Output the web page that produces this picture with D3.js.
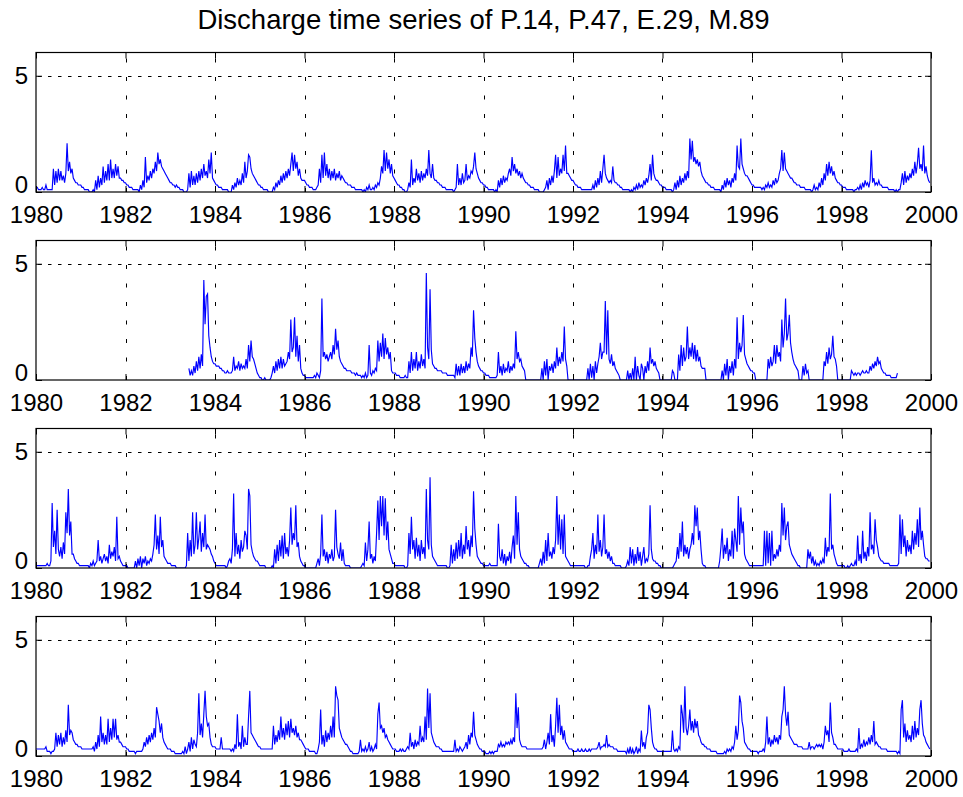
<!DOCTYPE html>
<html>
<head>
<meta charset="utf-8">
<script src="https://cdn.jsdelivr.net/npm/d3@7"></script>
<style>
body{margin:0;background:#fff;}
text{font-family:"Liberation Sans",Arial,sans-serif;fill:#000;}
</style>
</head>
<body>
<div id="chart"></div>
<script>
var N = null
/* discharge, in tenths, 36 values per year (about 10 days each), one row per year 1980..1999 */
var p14 = [
[2,2,1,1,1,2,1,1,3,1,1,1,1,1,10,3,9,4,10,5,9,5,7,4,8,21,9,13,8,10,6,5,4,4,3,3],
[3,2,2,1,1,1,1,0,0,0,1,0,5,1,7,2,6,3,11,4,9,5,12,5,14,6,10,6,12,7,11,6,6,5,5,4],
[4,3,3,2,2,2,1,1,1,1,1,0,3,1,5,2,15,4,7,5,9,6,10,8,13,9,17,12,14,11,10,9,8,7,6,5],
[4,4,3,3,2,3,2,2,1,1,1,0,0,0,1,8,2,9,3,7,3,8,4,9,5,10,6,12,7,9,6,14,8,17,6,5],
[4,3,3,2,2,2,1,1,1,1,1,0,0,0,3,1,4,2,6,3,5,3,8,4,13,6,9,16,15,10,8,7,6,5,4,3],
[3,2,2,1,1,1,1,0,0,0,0,2,1,4,2,5,3,7,4,8,5,9,6,10,7,12,17,9,16,10,13,7,10,6,5,5],
[5,4,3,3,2,2,2,1,1,1,2,3,10,4,16,6,17,7,12,6,10,5,9,6,10,5,8,6,9,5,7,6,5,4,4,3],
[3,3,2,2,2,1,1,1,1,1,1,0,1,0,2,1,3,1,1,2,1,3,2,4,3,6,11,8,18,9,17,10,14,8,12,7],
[6,5,4,3,3,2,2,1,1,0,0,1,4,2,14,3,6,4,10,5,8,4,9,5,8,6,10,7,18,8,6,12,6,5,5,4],
[4,3,3,2,2,2,1,1,1,1,1,1,0,1,2,12,3,6,3,8,4,5,12,5,7,6,9,8,11,17,10,8,6,5,4,4],
[3,3,2,2,1,1,1,1,1,0,1,0,5,2,6,3,7,4,6,5,8,10,7,15,9,12,8,10,7,9,6,8,6,5,4,4],
[3,3,2,2,2,1,1,1,1,0,0,0,0,1,2,5,1,6,3,7,4,9,16,6,15,7,10,8,16,9,20,8,8,7,6,5],
[5,4,3,3,2,2,2,1,1,1,1,1,1,1,1,1,3,1,5,2,6,3,9,4,10,16,8,6,5,4,5,4,11,5,4,4],
[3,3,2,2,1,1,1,1,1,1,0,1,0,2,1,3,1,4,2,3,2,5,3,6,4,7,12,5,16,8,6,5,5,4,3,3],
[2,2,2,1,1,1,1,1,0,1,4,1,5,2,7,3,6,4,8,5,9,6,23,14,22,13,15,12,14,11,13,9,7,6,5,4],
[4,3,3,2,2,2,1,1,1,1,1,0,3,1,5,2,6,3,5,2,6,4,8,5,20,11,10,23,12,10,8,7,7,6,5,4],
[3,3,2,2,2,2,2,2,1,2,1,3,2,4,2,3,2,5,3,6,4,5,8,10,18,9,17,10,9,8,7,6,6,5,4,4],
[3,3,3,2,2,2,2,1,1,1,1,1,0,1,3,1,2,1,4,2,6,3,8,5,12,7,13,8,11,7,9,6,5,4,4,3],
[3,2,2,2,1,1,1,1,1,1,0,1,1,2,1,3,1,4,2,5,3,4,2,5,18,4,6,3,4,3,5,3,3,2,2,2],
[2,2,1,1,1,1,1,0,1,0,1,1,4,8,3,9,4,7,5,8,6,10,7,13,8,12,19,10,12,9,20,8,11,7,5,4]
]
var p47 = [
[],
[],
[],
[N,N,N,N,N,N,N,N,N,N,N,N,N,N,N,5,2,4,2,6,3,8,4,10,5,11,6,43,24,36,37,19,14,10,8,7],
[7,6,6,6,5,5,4,4,3,3,4,3,3,3,4,10,4,6,5,8,4,7,5,6,5,9,5,15,8,17,10,9,7,5,3,2],
[1,1,0,0,1,0,0,0,0,1,3,6,3,8,4,9,5,10,5,9,6,7,8,12,9,26,12,14,27,10,19,8,15,5,3,2],
[2,1,1,1,1,1,1,1,2,1,3,2,1,4,35,10,12,9,11,8,10,12,9,15,11,22,13,17,10,8,7,6,5,5,4,4],
[4,4,3,3,3,2,3,2,2,2,1,2,1,3,1,2,15,3,2,4,3,5,4,17,8,16,10,20,9,18,11,14,9,12,4,3],
[3,3,2,2,2,1,1,1,1,2,1,1,8,3,12,4,9,5,12,4,8,5,11,6,9,5,46,14,9,39,13,7,6,5,5,4],
[4,4,4,3,3,3,3,2,2,2,2,2,2,1,7,2,6,2,7,3,6,3,8,4,7,5,14,10,30,18,12,8,6,5,4,4],
[3,3,2,2,2,1,1,1,1,1,1,2,12,3,6,2,7,3,5,4,8,3,6,4,7,5,21,9,12,8,9,6,5,4,0,0],
[0,0,0,0,0,0,0,0,0,0,0,5,0,8,2,9,0,6,4,7,3,8,5,14,6,10,7,12,8,23,9,6,0,0,0,0],
[0,0,0,0,0,0,0,0,0,0,0,0,5,0,7,1,6,0,8,3,7,10,16,9,12,12,34,11,30,9,7,11,6,8,5,4],
[3,2,0,0,0,0,0,0,4,0,3,0,5,0,10,0,6,2,0,7,5,0,6,3,8,4,14,7,9,6,8,5,4,3,0,0],
[0,0,0,0,0,0,0,0,4,3,0,0,0,11,4,15,6,14,8,10,23,9,14,10,16,9,15,8,13,8,10,6,5,5,5,0],
[0,0,0,0,0,0,0,0,0,0,0,0,4,0,7,2,9,0,6,3,8,2,9,5,27,9,16,12,15,28,11,9,7,6,5,4],
[4,3,3,0,0,0,0,0,0,0,0,0,0,9,5,10,6,8,15,7,15,10,12,8,26,14,20,35,17,20,28,16,12,9,7,6],
[5,4,0,0,0,6,2,7,3,4,0,0,0,0,0,0,0,0,0,0,0,0,8,6,12,7,14,9,11,19,10,9,6,0,0,0],
[0,0,0,0,0,0,0,0,4,3,2,3,2,3,3,2,3,4,3,3,4,3,3,6,4,7,5,8,6,10,7,8,5,4,3,3],
[2,2,2,2,1,1,1,1,1,3]
]
var e29 = [
[1,1,1,1,1,1,1,1,1,2,1,1,3,28,9,16,6,25,8,5,9,4,11,6,24,15,34,14,20,6,6,4,3,2,2,1],
[1,1,1,1,1,1,1,0,2,1,3,1,2,3,12,3,5,2,4,6,3,5,2,10,4,7,5,9,3,22,4,5,3,2,1,1],
[1,1,0,0,0,0,0,0,3,0,4,1,5,0,4,2,5,1,3,2,4,3,6,10,23,8,14,6,22,9,12,5,4,3,2,2],
[2,1,1,1,1,0,0,0,0,0,0,0,0,1,15,3,12,5,24,6,10,24,8,13,20,7,15,9,23,8,10,9,8,6,5,3],
[2,1,1,1,1,1,1,1,1,0,1,3,4,2,8,32,5,15,6,10,4,12,7,9,16,14,8,34,31,10,7,5,4,3,3,2],
[1,1,1,1,1,0,0,0,0,0,1,0,8,2,10,3,12,5,14,4,15,6,9,5,12,26,10,15,12,27,9,11,5,3,2,1],
[1,0,0,0,0,0,0,0,0,0,2,4,1,6,23,5,8,3,7,2,6,4,8,3,5,25,9,6,4,11,3,8,2,1,1,1],
[1,0,0,0,0,0,0,0,0,0,1,2,1,11,3,8,20,4,6,2,5,3,15,29,12,31,18,31,14,30,12,20,8,6,4,2],
[2,1,1,1,1,1,1,1,1,0,0,1,15,6,22,8,12,4,13,5,10,3,12,6,9,4,34,12,8,39,10,5,4,3,2,1],
[1,1,1,1,1,1,1,0,0,1,10,2,8,3,11,4,12,5,15,4,10,6,18,8,12,5,14,9,33,17,10,5,4,3,2,2],
[1,1,1,1,1,2,1,1,1,1,1,1,19,5,3,8,2,6,1,5,3,7,2,9,14,4,31,10,24,8,5,4,3,2,2,1],
[1,0,0,0,0,0,0,0,0,2,4,1,7,2,12,3,15,5,7,4,9,6,12,31,10,23,8,21,6,23,5,4,3,2,1,1],
[1,1,1,1,1,1,1,1,1,1,0,0,1,1,5,8,15,4,10,6,23,7,12,5,9,23,6,8,4,7,3,5,2,2,1,1],
[1,1,1,0,0,0,0,1,3,1,9,2,8,1,6,2,9,3,7,1,5,9,2,4,3,6,27,8,4,3,3,2,2,1,1,0],
[0,0,0,0,0,0,0,0,0,1,2,3,9,4,15,7,20,5,10,6,9,4,8,10,15,10,27,18,26,12,16,8,2,1,1,0],
[0,0,0,0,0,0,0,0,0,0,3,9,17,4,10,6,13,3,8,5,16,4,17,12,7,31,10,26,15,20,6,4,3,2,1,1],
[1,1,1,1,1,1,1,1,1,1,16,1,16,2,15,1,16,3,6,4,8,5,10,7,28,14,26,12,18,20,10,8,6,5,4,3],
[2,1,1,0,0,0,0,0,0,8,4,7,2,5,1,3,1,2,1,3,2,4,2,13,5,9,7,32,8,10,6,4,2,1,1,1],
[1,1,1,0,0,1,0,1,2,1,1,3,1,14,3,6,2,16,4,7,3,9,5,24,8,10,6,21,12,9,5,4,3,3,2,2],
[2,2,2,1,1,1,1,1,1,1,2,23,6,21,9,14,5,12,7,10,6,16,8,15,10,21,9,26,12,16,10,5,4,4,3,3]
]
var m89 = [
[3,3,3,3,3,3,3,3,4,2,2,2,1,2,2,3,10,4,9,5,10,4,8,5,11,6,22,9,11,10,7,6,5,5,4,4],
[4,3,3,3,3,3,3,3,3,3,4,2,6,3,9,4,17,6,10,5,9,5,16,6,12,7,16,8,16,7,9,6,6,5,4,4],
[4,3,3,2,2,2,2,2,1,2,2,2,2,2,3,6,4,8,5,9,6,10,7,12,8,21,18,15,10,14,8,6,5,4,3,3],
[3,2,2,2,1,1,1,1,1,1,2,1,4,1,3,6,2,8,3,7,5,4,10,27,9,14,8,18,28,17,13,14,8,5,4,4],
[4,3,3,3,3,8,3,3,3,3,3,3,3,2,3,2,5,3,18,4,6,3,13,4,8,5,5,17,28,10,9,8,7,6,5,4],
[4,3,3,3,3,3,3,3,3,3,3,13,5,9,6,11,7,17,8,12,7,14,9,15,8,16,10,12,9,13,8,10,7,7,6,5],
[4,3,3,3,2,2,2,2,2,1,1,3,6,20,5,9,4,11,6,10,7,13,8,17,8,30,26,24,12,10,8,7,6,5,5,4],
[3,2,2,1,1,1,1,1,2,7,2,3,2,4,2,3,6,2,4,2,3,5,3,18,23,12,13,10,12,8,9,7,6,5,4,3],
[3,3,2,2,2,3,2,3,2,2,3,4,3,10,4,6,3,7,4,6,5,13,6,8,6,17,7,29,12,27,10,8,6,5,4,4],
[4,3,3,2,2,2,2,2,2,2,2,2,2,7,2,3,2,4,3,2,3,4,6,3,9,5,10,8,19,9,7,5,4,3,3,2],
[2,2,1,1,1,2,1,2,1,2,2,2,5,4,6,4,5,4,6,5,6,5,7,5,8,6,27,12,21,7,5,4,4,4,4,3],
[3,3,3,3,3,3,3,3,3,3,3,3,4,7,3,6,10,5,18,6,9,4,13,25,10,22,9,13,7,11,6,5,4,3,3,3],
[2,2,2,2,3,2,2,3,2,2,3,2,2,3,2,3,3,3,3,3,4,6,3,4,4,5,4,9,4,5,4,4,4,3,3,3],
[2,2,2,2,2,2,2,1,3,1,4,1,3,1,2,4,1,3,2,11,4,6,3,8,10,22,20,12,6,4,3,3,2,2,2,2],
[2,2,2,2,2,2,2,2,11,3,2,3,2,4,3,22,18,10,30,12,9,13,20,11,15,10,16,12,15,9,8,6,5,5,4,4],
[3,3,3,2,2,2,2,2,1,1,1,1,1,1,2,1,3,2,3,2,4,3,6,13,7,11,26,23,15,12,6,5,4,3,3,2],
[2,2,2,2,2,1,2,2,2,3,2,6,17,5,8,4,7,5,9,6,8,5,9,7,17,20,30,18,13,19,9,8,7,6,5,5],
[5,4,4,4,4,3,3,3,3,3,6,3,4,4,3,4,5,4,5,4,5,3,6,13,9,11,6,23,10,8,5,5,4,3,3,3],
[3,3,2,2,2,2,3,2,2,2,2,2,3,2,12,3,5,4,7,4,6,5,8,5,9,6,15,5,6,5,4,4,3,3,3,3],
[3,2,2,2,2,2,2,2,2,1,2,1,20,24,8,14,6,11,7,9,6,13,7,15,8,12,9,20,24,14,9,8,6,5,4,3]
]

var stations = ["P.14","P.47","E.29","M.89"]
var series = [p14, p47, e29, m89]
var firstYear = 1980, lastYear = 2000, stepsPerYear = 36
var xTicks = d3.range(1980, 2001, 2)
var yTicks = [0, 5]
var yMax = 6

var width = 963, height = 797
var margin = {left:36, right:32}
var plotTop = [52.5, 240.5, 428.5, 616.5], plotHeight = 139.5

//turn the yearly rows into {t, v} points
function toPoints(rows){
    var pts = []
    rows.forEach(function(row, y){
        row.forEach(function(v, i){
            pts.push({t: firstYear + y + i/stepsPerYear, v: v == null ? null : v/10})
        })
    })
    return pts
}

var svg = d3.select("#chart").append("svg")
    .attr("width", width)
    .attr("height", height)
    .style("display", "block")

svg.append("rect").attr("width", width).attr("height", height).attr("fill", "#fff")

var xScale = d3.scaleLinear().domain([firstYear, lastYear]).range([margin.left, width - margin.right])

//title
svg.append("text")
    .attr("x", (margin.left + width - margin.right)/2)
    .attr("y", 29)
    .attr("text-anchor", "middle")
    .style("font-size", "27.5px")
    .text("Discharge time series of " + stations.join(", "))

series.forEach(function(rows, k){
    var top = plotTop[k], bottom = top + plotHeight
    var yScale = d3.scaleLinear().domain([0, yMax]).range([bottom, top])
    var g = svg.append("g")

    g.append("clipPath").attr("id", "clip" + k)
        .append("rect")
        .attr("x", xScale.range()[0]).attr("y", top)
        .attr("width", xScale.range()[1] - xScale.range()[0]).attr("height", plotHeight)

    // dotted grid
    g.selectAll(".vgrid").data(xTicks.slice(1, -1)).enter().append("line")
        .attr("x1", function(d){ return Math.round(xScale(d)) + 0.5 })
        .attr("x2", function(d){ return Math.round(xScale(d)) + 0.5 })
        .attr("y1", bottom).attr("y2", top)
        .attr("stroke", "#000").attr("stroke-width", 1)
        .attr("stroke-dasharray", "4,14.5")
    g.selectAll(".hgrid").data(yTicks.slice(1)).enter().append("line")
        .attr("x1", xScale.range()[0] + 2).attr("x2", xScale.range()[1])
        .attr("y1", function(d){ return Math.round(yScale(d)) + 0.5 })
        .attr("y2", function(d){ return Math.round(yScale(d)) + 0.5 })
        .attr("stroke", "#000").attr("stroke-width", 1)
        .attr("stroke-dasharray", "3.5,6.5")

    // the series
    var line = d3.line()
        .defined(function(d){ return d.v != null })
        .x(function(d){ return xScale(d.t) })
        .y(function(d){ return yScale(d.v) })
    g.append("path")
        .datum(toPoints(rows))
        .attr("clip-path", "url(#clip" + k + ")")
        .attr("fill", "none")
        .attr("stroke", "#0000ff")
        .attr("stroke-width", 1.15)
        .attr("d", line)

    // axes, ticks pointing inwards
    var xAxis = d3.axisBottom(xScale).tickValues(xTicks).tickFormat(d3.format("d")).tickSize(-6).tickPadding(14)
    var xAxisTop = d3.axisTop(xScale).tickValues(xTicks).tickFormat("").tickSize(-6)
    var yAxis = d3.axisLeft(yScale).tickValues(yTicks).tickFormat(d3.format("d")).tickSize(-6).tickPadding(8)
    var yAxisRight = d3.axisRight(yScale).tickValues(yTicks).tickFormat("").tickSize(-6)

    var ax = g.append("g").attr("transform", "translate(0," + bottom + ")").call(xAxis)
    g.append("g").attr("transform", "translate(0," + top + ")").call(xAxisTop)
    var ay = g.append("g").attr("transform", "translate(" + xScale.range()[0] + ",0)").call(yAxis)
    g.append("g").attr("transform", "translate(" + xScale.range()[1] + ",0)").call(yAxisRight)

    g.selectAll(".domain").remove()
    g.selectAll(".tick line").attr("stroke", "#000")
    ax.selectAll("text").style("font-size", "24px").attr("fill", "#000")
    // the lowest label sits on the axis line, the others are centred on their tick
    ay.selectAll("text").style("font-size", "24px").attr("fill", "#000")
        .attr("dy", function(d){ return d == 0 ? "0.02em" : "0.34em" })

    // box
    g.append("rect")
        .attr("x", xScale.range()[0]).attr("y", top)
        .attr("width", xScale.range()[1] - xScale.range()[0]).attr("height", plotHeight)
        .attr("fill", "none").attr("stroke", "#000").attr("stroke-width", 1.2)
})
</script>
</body>
</html>
